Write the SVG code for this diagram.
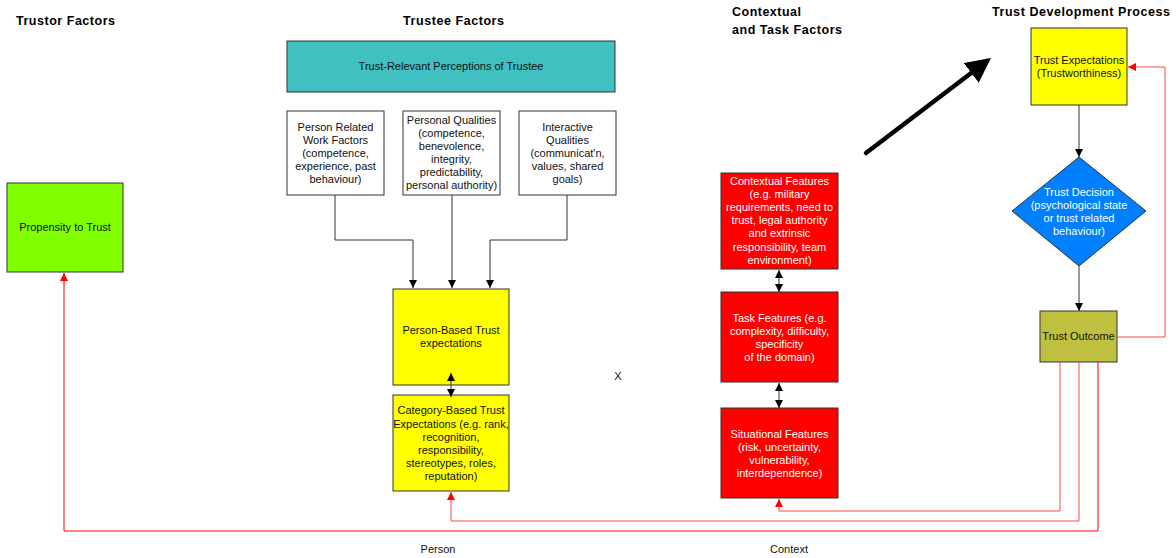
<svg xmlns="http://www.w3.org/2000/svg" width="1176" height="558" viewBox="0 0 1176 558">
<defs>
<style>
text{font-family:"Liberation Sans",Arial,sans-serif;font-size:11px;text-anchor:middle;fill:#111}
.t{font-weight:bold;font-size:12.5px;text-anchor:start;fill:#000}
.w{fill:#fff}
.box{stroke:#333;stroke-width:1}
.c{fill:none;stroke:#333;stroke-width:1}
.r{fill:none;stroke:#ff4a4a;stroke-width:1}
</style>
<marker id="a" viewBox="0 0 10 10" refX="10" refY="5" markerWidth="8" markerHeight="8" markerUnits="userSpaceOnUse" orient="auto-start-reverse"><path d="M0,0L10,5L0,10z" fill="#000"/></marker>
<marker id="ar" viewBox="0 0 10 10" refX="10" refY="5" markerWidth="8" markerHeight="8" markerUnits="userSpaceOnUse" orient="auto"><path d="M0,0L10,5L0,10z" fill="#f00"/></marker>
<marker id="big" viewBox="0 0 10 10" refX="8" refY="5" markerWidth="5.5" markerHeight="5.5" orient="auto"><path d="M0,0L10,5L0,10z" fill="#000"/></marker>
</defs>
<rect width="1176" height="558" fill="#fff"/>

<g id="titles">
<text class="t" x="16" y="25" textLength="99">Trustor Factors</text>
<text class="t" x="403" y="25" textLength="101">Trustee Factors</text>
<text class="t" x="732" y="16" textLength="69">Contextual</text>
<text class="t" x="732" y="34" textLength="110">and Task Factors</text>
<text class="t" x="992" y="16" textLength="178">Trust Development Process</text>
<text x="438" y="553">Person</text>
<text x="789" y="553">Context</text>
<text x="618" y="380">X</text>
</g>

<g id="perceptions">
<rect class="box" x="287" y="41" width="328" height="51" fill="#40c0c0"/>
<text x="451" y="70">Trust-Relevant Perceptions of Trustee</text>
</g>

<g id="person-work">
<rect class="box" x="287" y="111" width="97" height="84" fill="#fff"/>
<text x="335.5" y="131">Person Related</text>
<text x="335.5" y="144">Work Factors</text>
<text x="335.5" y="157">(competence,</text>
<text x="335.5" y="170">experience, past</text>
<text x="335.5" y="183">behaviour)</text>
</g>

<g id="personal-qualities">
<rect class="box" x="403" y="111" width="97" height="84" fill="#fff"/>
<text x="451.5" y="124">Personal Qualities</text>
<text x="451.5" y="137">(competence,</text>
<text x="451.5" y="150">benevolence,</text>
<text x="451.5" y="163">integrity,</text>
<text x="451.5" y="176">predictability,</text>
<text x="451.5" y="189">personal authority)</text>
</g>

<g id="interactive">
<rect class="box" x="519" y="111" width="97" height="84" fill="#fff"/>
<text x="567.5" y="131">Interactive</text>
<text x="567.5" y="144">Qualities</text>
<text x="567.5" y="157">(communicat'n,</text>
<text x="567.5" y="170">values, shared</text>
<text x="567.5" y="183">goals)</text>
</g>

<g id="person-based">
<rect class="box" x="393" y="289" width="116" height="96" fill="#ff0"/>
<text x="451" y="334">Person-Based Trust</text>
<text x="451" y="347">expectations</text>
</g>

<g id="category-based">
<rect class="box" x="393" y="395" width="116" height="96" fill="#ff0"/>
<text x="451" y="414">Category-Based Trust</text>
<text x="451" y="428">Expectations (e.g. rank,</text>
<text x="451" y="441">recognition,</text>
<text x="451" y="454">responsibility,</text>
<text x="451" y="467">stereotypes, roles,</text>
<text x="451" y="480">reputation)</text>
</g>

<g id="propensity">
<rect class="box" x="7" y="183" width="116" height="89" fill="#80ff00"/>
<text x="65" y="231">Propensity to Trust</text>
</g>

<g id="contextual">
<rect class="box" x="721" y="173" width="117" height="96" fill="#f00"/>
<text class="w" x="779.5" y="185">Contextual Features</text>
<text class="w" x="779.5" y="198">(e.g. military</text>
<text class="w" x="779.5" y="211">requirements, need to</text>
<text class="w" x="779.5" y="224">trust, legal authority</text>
<text class="w" x="779.5" y="237">and extrinsic</text>
<text class="w" x="779.5" y="251">responsibility, team</text>
<text class="w" x="779.5" y="264">environment)</text>
</g>

<g id="task">
<rect class="box" x="721" y="292" width="117" height="90" fill="#f00"/>
<text class="w" x="779.5" y="322">Task Features (e.g.</text>
<text class="w" x="779.5" y="335">complexity, difficulty,</text>
<text class="w" x="779.5" y="348">specificity</text>
<text class="w" x="779.5" y="361">of the domain)</text>
</g>

<g id="situational">
<rect class="box" x="721" y="408" width="117" height="90" fill="#f00"/>
<text class="w" x="779.5" y="438">Situational Features</text>
<text class="w" x="779.5" y="451">(risk, uncertainty,</text>
<text class="w" x="779.5" y="464">vulnerability,</text>
<text class="w" x="779.5" y="477">interdependence)</text>
</g>

<g id="trust-expectations">
<rect class="box" x="1031" y="28" width="96" height="77" fill="#ff0"/>
<text x="1079" y="64">Trust Expectations</text>
<text x="1079" y="77">(Trustworthiness)</text>
</g>

<g id="trust-decision">
<path class="box" d="M1079,157L1146,211L1079,266L1012,211Z" fill="#0080ff"/>
<text class="w" x="1079" y="196">Trust Decision</text>
<text class="w" x="1079" y="209">(psychological state</text>
<text class="w" x="1079" y="222">or trust related</text>
<text class="w" x="1079" y="235">behaviour)</text>
</g>

<g id="trust-outcome">
<rect class="box" x="1040" y="311" width="77" height="51" fill="#c0c040"/>
<text x="1078.5" y="340">Trust Outcome</text>
</g>

<g id="connectors">
<path class="c" d="M335,195V240H413V288" marker-end="url(#a)"/>
<path class="c" d="M452,195V288" marker-end="url(#a)"/>
<path class="c" d="M567,195V240H490V288" marker-end="url(#a)"/>
<path class="c" d="M451,373V397" marker-start="url(#a)" marker-end="url(#a)"/>
<path class="c" d="M779,270V292" marker-start="url(#a)" marker-end="url(#a)"/>
<path class="c" d="M779,383V408" marker-start="url(#a)" marker-end="url(#a)"/>
<path class="c" d="M1079,105V157" marker-end="url(#a)"/>
<path class="c" d="M1079,266V311" marker-end="url(#a)"/>
<path class="r" d="M1117,337H1165V67H1128" marker-end="url(#ar)"/>
<path class="r" d="M1060,362V511H779V499" marker-end="url(#ar)"/>
<path class="r" d="M1079,362V521H451V492" marker-end="url(#ar)"/>
<path class="r" d="M1098,362V531H64V273" marker-end="url(#ar)" style="stroke:#f00"/>
<path d="M866,153L987,61" stroke="#000" stroke-width="4.5" stroke-linecap="round" fill="none" marker-end="url(#big)"/>
</g>
</svg>
